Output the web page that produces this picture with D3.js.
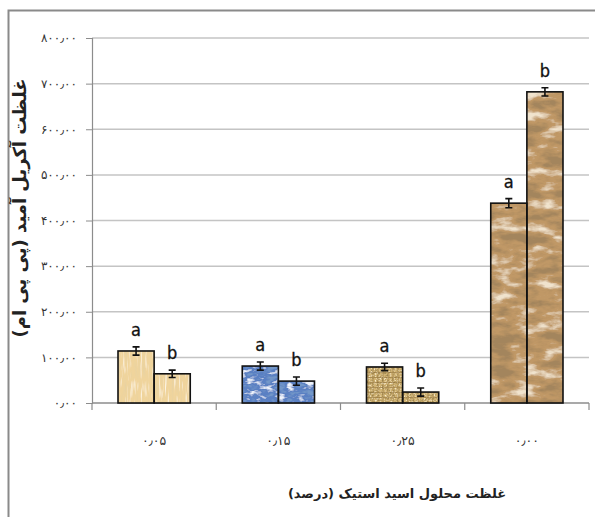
<!DOCTYPE html>
<html>
<head>
<meta charset="utf-8">
<script src="https://cdn.jsdelivr.net/npm/d3@7"></script>
<style>
  body { margin: 0; background: #fff; }
  .tick text { font-family: 'DejaVu Sans', sans-serif; }
</style>
</head>
<body>
<div class="chart"></div>
<script>
// acetic acid concentration (%) on x, acrylamide (ppm) on y
var categories = ['0.05', '0.15', '0.25', '0.00'];
var seriesNames = ['a', 'b'];
var valuesA = [114, 81, 79, 438];
var valuesB = [64, 48, 24, 682];
var errorsA = [9, 9, 8, 10];
var errorsB = [8, 9, 9, 9];
var yTicks = [0, 100, 200, 300, 400, 500, 600, 700, 800];
var fills = ['wheat', 'water', 'burlap', 'paper'];

var xTitle = 'غلظت محلول اسید استیک (درصد)';
var yTitle = 'غلظت آکریل آمید (پی پی ام)';

var width = 595, height = 517;
var margin = {top: 38, right: 6, bottom: 114, left: 92};

var faDigits = '۰۱۲۳۴۵۶۷۸۹';
function toFa(s) {
  return s.replace(/[0-9]/g, function(d) { return faDigits[+d]; }).replace('.', '٫');
}

var rows = categories.map(function(c, i) {
  return {
    cat: c,
    fill: fills[i],
    bars: [
      {key: seriesNames[0], value: valuesA[i], err: errorsA[i]},
      {key: seriesNames[1], value: valuesB[i], err: errorsB[i]}
    ]
  };
});

var svg = d3.select('.chart').append('svg')
  .attr('width', width)
  .attr('height', height);

// textures for the bar fills: one noise field, tinted dark where high and light where low
var defs = svg.append('defs');
function layer(f, col, k, off, name) {
  var c = d3.color(col);
  f.append('feColorMatrix').attr('in', 'noise').attr('type', 'matrix')
    .attr('values', [0, 0, 0, 0, c.r / 255,
                     0, 0, 0, 0, c.g / 255,
                     0, 0, 0, 0, c.b / 255,
                     k, 0, 0, 0, off].join(' '))
    .attr('result', name + 'T');
  f.append('feComposite').attr('in', name + 'T').attr('in2', 'SourceGraphic')
    .attr('operator', 'in').attr('result', name);
}
function texture(id, opts) {
  var f = defs.append('filter').attr('id', id)
    .attr('x', 0).attr('y', 0).attr('width', 1).attr('height', 1);
  f.append('feTurbulence')
    .attr('type', 'fractalNoise')
    .attr('baseFrequency', opts.freq)
    .attr('numOctaves', opts.octaves)
    .attr('seed', opts.seed)
    .attr('result', 'noise');
  // dark: alpha = k*(r - darkAt), light: alpha = k*(lightAt - r)
  layer(f, opts.dark, opts.k, -opts.k * opts.darkAt, 'dk');
  layer(f, opts.light, -opts.k, opts.k * opts.lightAt, 'lt');
  var m = f.append('feMerge');
  m.append('feMergeNode').attr('in', 'SourceGraphic');
  m.append('feMergeNode').attr('in', 'lt');
  m.append('feMergeNode').attr('in', 'dk');
}
texture('wheat', {freq: '0.45 0.05', octaves: 2, seed: 3, k: 3,
  dark: '#c9a45e', darkAt: 0.52, light: '#fbeccb', lightAt: 0.46});
texture('water', {freq: '0.1 0.2', octaves: 3, seed: 7, k: 5,
  dark: '#2c4f93', darkAt: 0.53, light: '#dce7fa', lightAt: 0.45});
texture('burlap', {freq: '0.6 0.6', octaves: 2, seed: 5, k: 4,
  dark: '#5e4418', darkAt: 0.52, light: '#f0d89c', lightAt: 0.46});
texture('paper', {freq: '0.04 0.09', octaves: 4, seed: 11, k: 4.5,
  dark: '#5e3c1c', darkAt: 0.49, light: '#dec39b', lightAt: 0.44});
var baseColors = {wheat: '#f0d49c', water: '#5a80c3', burlap: '#d3b574', paper: '#c09866'};

// weave lines for the burlap bars
var weave = defs.append('pattern').attr('id', 'weave')
  .attr('patternUnits', 'userSpaceOnUse').attr('width', 5).attr('height', 5);
weave.append('path').attr('d', 'M0,2.5H5M2.5,0V5')
  .attr('stroke', '#7a5b26').attr('stroke-width', 1.2).attr('opacity', 0.45);

// frame
svg.append('path')
  .attr('d', 'M8.5,' + height + 'V10.5H' + width)
  .attr('fill', 'none')
  .attr('stroke', '#8a8a8a')
  .attr('stroke-width', 2);

var x = d3.scaleBand()
  .domain(categories)
  .range([margin.left, width - margin.right]);
var xs = d3.scaleBand()
  .domain(seriesNames)
  .range([0, x.bandwidth()])
  .paddingOuter(0.72);
var y = d3.scaleLinear()
  .domain([0, 800])
  .range([height - margin.bottom, margin.top]);

// grid
svg.append('g')
  .selectAll('line')
  .data(yTicks.slice(1))
  .join('line')
  .attr('x1', margin.left)
  .attr('x2', width - margin.right)
  .attr('y1', function(d) { return y(d); })
  .attr('y2', function(d) { return y(d); })
  .attr('stroke', '#c4c4c4')
  .attr('stroke-width', 1.5);

// y axis
var yAxis = svg.append('g')
  .attr('transform', 'translate(' + margin.left + ',0)')
  .call(d3.axisLeft(y).tickValues(yTicks).tickSize(6).tickPadding(9)
    .tickFormat(function(d) { return toFa(d3.format('.2f')(d)); }));
yAxis.select('.domain').attr('stroke', '#8c8c8c').attr('stroke-width', 1.2);
yAxis.selectAll('.tick line').attr('stroke', '#8c8c8c');
yAxis.selectAll('.tick text').attr('font-size', 12).attr('fill', '#333');

// x axis with ticks on the band edges
var xAxis = svg.append('g')
  .attr('transform', 'translate(0,' + y(0) + ')');
xAxis.append('line')
  .attr('x1', margin.left).attr('x2', width - margin.right)
  .attr('stroke', '#8c8c8c').attr('stroke-width', 1.5);
xAxis.selectAll('.edge')
  .data(categories.concat(['end']))
  .join('line')
  .attr('class', 'edge')
  .attr('x1', function(d) { return d === 'end' ? x.range()[1] : x(d); })
  .attr('x2', function(d) { return d === 'end' ? x.range()[1] : x(d); })
  .attr('y1', 0).attr('y2', 7)
  .attr('stroke', '#8c8c8c').attr('stroke-width', 1.2);
xAxis.selectAll('.lbl')
  .data(categories)
  .join('text')
  .attr('class', 'lbl')
  .attr('x', function(d) { return x(d) + x.bandwidth() / 2; })
  .attr('y', 42)
  .attr('text-anchor', 'middle')
  .attr('font-family', "'DejaVu Sans', sans-serif")
  .attr('font-size', 12.5)
  .attr('fill', '#333')
  .text(function(d) { return toFa(d); });

// bars
var groups = svg.append('g').selectAll('g')
  .data(rows)
  .join('g')
  .attr('transform', function(d) { return 'translate(' + x(d.cat) + ',0)'; });

function withFill(d) {
  return d.bars.map(function(b) { return Object.assign({fill: d.fill}, b); });
}

groups.selectAll('rect.fill')
  .data(withFill)
  .join('rect')
  .attr('class', 'fill')
  .attr('x', function(d) { return xs(d.key); })
  .attr('width', xs.bandwidth())
  .attr('y', function(d) { return y(d.value); })
  .attr('height', function(d) { return y(0) - y(d.value); })
  .attr('fill', function(d) { return baseColors[d.fill]; })
  .attr('filter', function(d) { return 'url(#' + d.fill + ')'; });

groups.filter(function(d) { return d.fill === 'burlap'; })
  .selectAll('rect.weave')
  .data(function(d) { return d.bars; })
  .join('rect')
  .attr('class', 'weave')
  .attr('x', function(d) { return xs(d.key); })
  .attr('width', xs.bandwidth())
  .attr('y', function(d) { return y(d.value); })
  .attr('height', function(d) { return y(0) - y(d.value); })
  .attr('fill', 'url(#weave)');

groups.selectAll('rect.outline')
  .data(function(d) { return d.bars; })
  .join('rect')
  .attr('class', 'outline')
  .attr('x', function(d) { return xs(d.key); })
  .attr('width', xs.bandwidth())
  .attr('y', function(d) { return y(d.value); })
  .attr('height', function(d) { return y(0) - y(d.value); })
  .attr('fill', 'none')
  .attr('stroke', '#111')
  .attr('stroke-width', 1.6);

// error bars
var eb = groups.selectAll('g.err')
  .data(function(d) { return d.bars; })
  .join('g')
  .attr('class', 'err')
  .attr('transform', function(d) { return 'translate(' + (xs(d.key) + xs.bandwidth() / 2) + ',0)'; });
eb.append('path')
  .attr('d', function(d) {
    var y1 = y(d.value + d.err), y2 = y(d.value - d.err);
    return 'M-3.5,' + y1 + 'H3.5M0,' + y1 + 'V' + y2 + 'M-3.5,' + y2 + 'H3.5';
  })
  .attr('fill', 'none')
  .attr('stroke', '#111')
  .attr('stroke-width', 1.6);

// significance letters
groups.selectAll('text.sig')
  .data(function(d) { return d.bars; })
  .join('text')
  .attr('class', 'sig')
  .attr('x', function(d) { return xs(d.key) + xs.bandwidth() / 2; })
  .attr('y', function(d) { return y(d.value + d.err) - 11; })
  .attr('text-anchor', 'middle')
  .attr('font-family', "'DejaVu Sans Condensed', 'Liberation Sans Narrow', sans-serif")
  .attr('font-size', 18)
  .attr('fill', '#111')
  .attr('stroke', '#111')
  .attr('stroke-width', 0.3)
  .text(function(d) { return d.key; });

// axis titles
svg.append('text')
  .attr('x', 397)
  .attr('y', 498)
  .attr('text-anchor', 'middle')
  .attr('direction', 'rtl')
  .attr('font-family', "'DejaVu Sans', sans-serif")
  .attr('font-weight', 'bold')
  .attr('font-size', 13)
  .attr('fill', '#222')
  .text(xTitle);

svg.append('text')
  .attr('transform', 'translate(26,208) rotate(-90)')
  .attr('text-anchor', 'middle')
  .attr('direction', 'rtl')
  .attr('font-family', "'DejaVu Sans', sans-serif")
  .attr('font-weight', 'bold')
  .attr('font-size', 18)
  .attr('fill', '#222')
  .text(yTitle);
</script>
</body>
</html>
